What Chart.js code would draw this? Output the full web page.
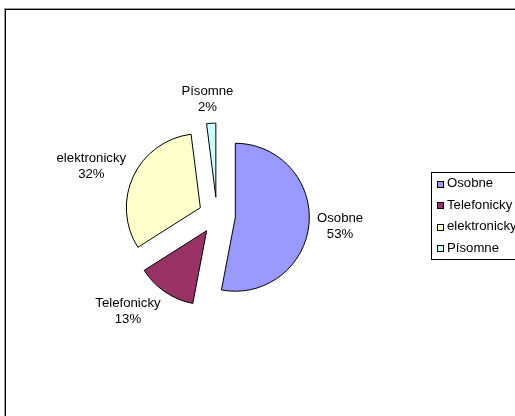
<!DOCTYPE html>
<html><head><meta charset="utf-8">
<script src="https://cdn.jsdelivr.net/npm/chart.js@4.4.0/dist/chart.umd.min.js"></script>
<style>
html,body{margin:0;padding:0;background:#fff;overflow:hidden}
#wrap{position:relative;width:515px;height:416px;overflow:hidden}
#frame{position:absolute;left:5px;top:9px;width:700px;height:600px;border:1px solid #000;box-shadow:-1px -1px 0 #999}
canvas{position:absolute;left:0;top:0}
</style></head>
<body><div id="wrap"><div id="frame"></div><canvas id="c" width="515" height="416"></canvas></div>
<script>
const categories = ['Osobne','Telefonicky','elektronicky','Písomne'];
const shares = [53, 13, 32, 2];
const pctLabels = ['53%', '13%', '32%', '2%'];
const sliceColors = ['#9999FF','#993366','#FFFFCC','#CCFFFF'];

const FONT = '13.2px "Liberation Sans", Arial, sans-serif';

const explodePlugin = {
  id: 'explode',
  afterDatasetsUpdate(chart, args, opts) {
    const meta = chart.getDatasetMeta(0);
    meta.data.forEach(arc => {
      const mid = (arc.startAngle + arc.endAngle) / 2;
      arc.x += Math.cos(mid) * opts.distance;
      arc.y += Math.sin(mid) * opts.distance;
    });
  }
};

const labelPlugin = {
  id: 'outLabels',
  afterDatasetsDraw(chart, args, opts) {
    const ctx = chart.ctx;
    const meta = chart.getDatasetMeta(0);
    ctx.save();
    ctx.font = FONT;
    ctx.fillStyle = '#000';
    ctx.textAlign = 'center';
    ctx.textBaseline = 'middle';
    const lh = opts.lineHeight;
    meta.data.forEach((arc, i) => {
      const mid = (arc.startAngle + arc.endAngle) / 2;
      const dx = Math.cos(mid), dy = Math.sin(mid);
      const r = arc.outerRadius + opts.gap;
      const ax = arc.x + dx * r, ay = arc.y + dy * r;
      const l1 = chart.data.labels[i], l2 = pctLabels[i];
      const w = Math.max(ctx.measureText(l1).width, ctx.measureText(l2).width);
      const h = 2 * lh;
      const cx = ax + Math.max(-1, Math.min(1, 2 * dx)) * w / 2;
      const cy = ay + dy * h / 2;
      ctx.fillText(l1, cx, cy - lh / 2);
      ctx.fillText(l2, cx, cy + lh / 2);
    });
    ctx.restore();
  }
};

const legendPlugin = {
  id: 'boxLegend',
  afterDraw(chart, args, opts) {
    const ctx = chart.ctx;
    const ds = chart.data.datasets[0];
    ctx.save();
    ctx.strokeStyle = '#000';
    ctx.lineWidth = 1;
    ctx.strokeRect(opts.x + 0.5, opts.y + 0.5, 200, opts.h);
    ctx.font = FONT;
    ctx.textBaseline = 'middle';
    ctx.textAlign = 'left';
    chart.data.labels.forEach((lab, i) => {
      const yy = opts.y + opts.first + i * opts.step;
      ctx.fillStyle = ds.backgroundColor[i];
      ctx.fillRect(opts.x + 6.5, Math.round(yy - 3) + 0.5, 6, 6);
      ctx.strokeRect(opts.x + 6.5, Math.round(yy - 3) + 0.5, 6, 6);
      ctx.fillStyle = '#000';
      ctx.fillText(lab, opts.x + 16, yy);
    });
    ctx.restore();
  }
};

new Chart(document.getElementById('c'), {
  type: 'pie',
  data: {
    labels: categories,
    datasets: [{
      data: shares,
      backgroundColor: sliceColors,
      borderColor: '#000',
      borderWidth: 1,
      borderJoinStyle: 'miter'
    }]
  },
  options: {
    responsive: false,
    animation: false,
    events: [],
    radius: 74,
    layout: { padding: { left: 0, right: 81, top: 15, bottom: 0 } },
    plugins: {
      legend: { display: false },
      tooltip: { enabled: false },
      explode: { distance: 18.4 },
      outLabels: { gap: 8, lineHeight: 16 },
      boxLegend: { x: 431, y: 172, h: 87, first: 11.5, step: 21.6 }
    }
  },
  plugins: [explodePlugin, labelPlugin, legendPlugin]
});
</script></body></html>
